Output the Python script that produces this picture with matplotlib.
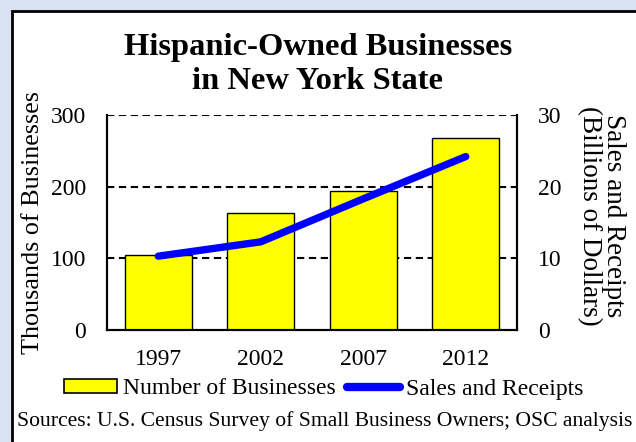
import matplotlib.pyplot as plt
from matplotlib.patches import Rectangle
from matplotlib.lines import Line2D

plt.rcParams['font.family'] = ['Liberation Serif', 'DejaVu Serif']

years = ['1997', '2002', '2007', '2012']
businesses = [104.6, 163.7, 194.0, 268.4]   # thousands
sales = [10.3, 12.3, 18.3, 24.2]            # billions of dollars

W, H = 636, 442
fig = plt.figure(figsize=(W / 100, H / 100), dpi=100)
fig.patch.set_facecolor('#d9e2f3')

# white panel with a black edge on the left/top
panel = Rectangle((12 / W, -0.1), 1.2, 1.1 - 11 / H, transform=fig.transFigure,
                  facecolor='white', edgecolor='black', linewidth=2, zorder=-5)
fig.patches.append(panel)

ax = fig.add_axes([107 / W, 1 - 330 / H, 410 / W, 215 / H])
ax.set_facecolor('white')
x = range(len(years))
ax.bar(x, businesses, width=0.65, color='#ffff00', edgecolor='black',
       linewidth=1, zorder=2)
ax.set_xlim(-0.5, 3.5)
ax.set_ylim(0, 300)
ax.set_yticks([0, 100, 200, 300])
ax.set_xticks(list(x))
ax.set_xticklabels(years)
for yv in [100, 200, 300]:
    ax.axhline(yv, color='black', linestyle=(0, (3.5, 2.2)), linewidth=1.5, zorder=1)
ax.spines['top'].set_visible(False)
for s in ['left', 'right', 'bottom']:
    ax.spines[s].set_linewidth(1.5)
ax.tick_params(axis='y', length=0, labelsize=17, pad=15)
ax.tick_params(axis='x', length=0, labelsize=17, pad=14)
ax.set_ylabel('Thousands of Businesses', fontsize=18.8, labelpad=5)

ax2 = ax.twinx()
ax2.plot(x, sales, color='#0000ff', linewidth=5.3, solid_capstyle='round',
         solid_joinstyle='round', zorder=3)
ax2.set_ylim(0, 30)
ax2.set_yticks([0, 10, 20, 30])
ax2.spines['top'].set_visible(False)
for s in ['left', 'right', 'bottom']:
    ax2.spines[s].set_linewidth(1.5)
ax2.tick_params(length=0, labelsize=17, pad=15)
ax2.set_ylabel('Sales and Receipts\n(Billions of Dollars)', fontsize=19.5,
               rotation=270, va='bottom', labelpad=10, linespacing=0.95)
ax2.yaxis.set_label_coords(1.0 + 60 / 410, 0.53)

fig.text(0.5, 1 - 55 / H, 'Hispanic-Owned Businesses', ha='center',
         va='baseline', fontsize=23.4, fontweight='bold')
fig.text(0.5, 1 - 89 / H, 'in New York State', ha='center',
         va='baseline', fontsize=23.4, fontweight='bold')

handles = [Rectangle((0, 0), 1, 1, facecolor='#ffff00', edgecolor='black', linewidth=1.2),
           Line2D([0], [0], color='#0000ff', linewidth=6, solid_capstyle='round')]
fig.legend(handles, ['Number of Businesses', 'Sales and Receipts'],
           loc='center', bbox_to_anchor=(324 / W, 1 - 389 / H), ncol=2,
           frameon=False, fontsize=17, handlelength=2.25, handleheight=0.5,
           handletextpad=0.25, columnspacing=0.47, borderaxespad=0, borderpad=0)

fig.text(17 / W, 1 - 421 / H,
         'Sources: U.S. Census Survey of Small Business Owners; OSC analysis',
         ha='left', va='center', fontsize=15.6)

fig.savefig('out.png', dpi=100, facecolor=fig.get_facecolor())
